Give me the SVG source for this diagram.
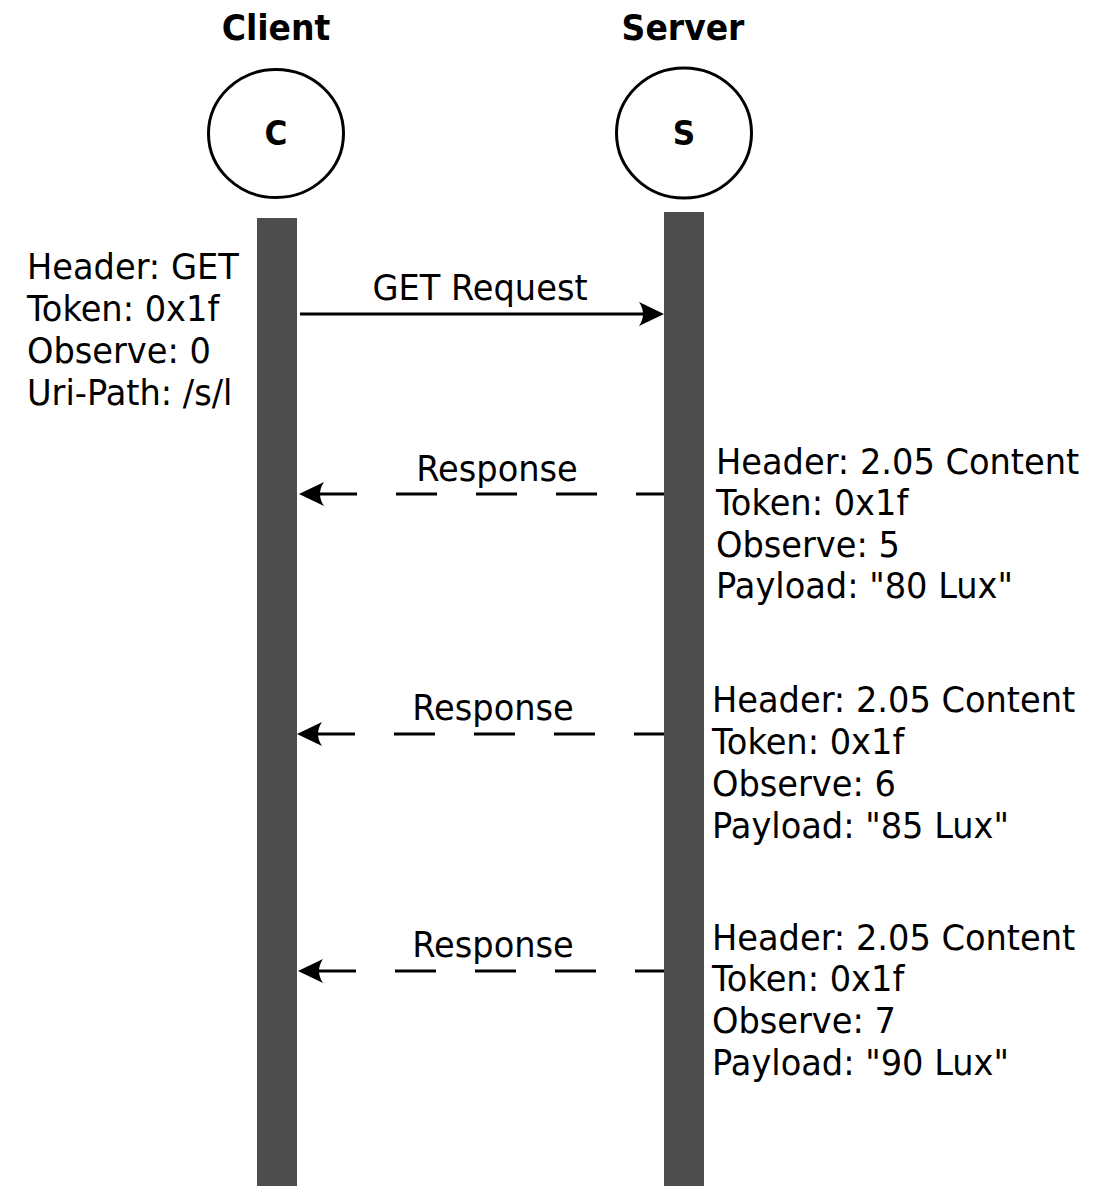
<svg xmlns="http://www.w3.org/2000/svg" width="1109" height="1186" viewBox="0 0 1109 1186">
<style>
text{font-family:"DejaVu Sans","Liberation Sans",sans-serif;fill:#000}
.lbl{font-size:35.6px}
.title{font-size:35px;font-weight:bold;text-anchor:middle}
.ini{font-size:33px;font-weight:bold;text-anchor:middle}
.mid{text-anchor:middle}
.head{fill:#fff;stroke:#000;stroke-width:3}
.bar{fill:#4d4d4d}
.msg{fill:none;stroke:#000;stroke-width:3}
.dash{stroke-dasharray:41 39}
</style>
<defs>
<marker id="ah" viewBox="-12 -15 32 30" markerWidth="32" markerHeight="30" refX="0" refY="0" markerUnits="userSpaceOnUse" orient="auto-start-reverse">
<path d="M17,0 L-8,-12 Q0,0 -8,12 Z" fill="#000"/>
</marker>
</defs>
<rect width="1109" height="1186" fill="#fff"/>
<g id="client">
<text class="title" transform="translate(276,0) scale(0.945,1)" x="0" y="40">Client</text>
<ellipse class="head" cx="276" cy="133.5" rx="67.5" ry="64"/>
<text class="ini" transform="translate(276,0) scale(0.945,1)" x="0" y="145">C</text>
<rect class="bar" x="257" y="218" width="40" height="968"/>
</g>
<g id="server">
<text class="title" transform="translate(683,0) scale(0.945,1)" x="0" y="40">Server</text>
<ellipse class="head" cx="684" cy="133" rx="67.5" ry="65"/>
<text class="ini" transform="translate(684,0) scale(0.945,1)" x="0" y="145">S</text>
<rect class="bar" x="664" y="212" width="40" height="974"/>
</g>
<g id="connectors">
<path class="msg" d="M300,314 H647" marker-end="url(#ah)"/>
<path class="msg dash" d="M316,494 H664" marker-start="url(#ah)"/>
<path class="msg dash" d="M314,734 H664" marker-start="url(#ah)"/>
<path class="msg dash" d="M315,971 H664" marker-start="url(#ah)"/>
</g>
<g id="labels">
<text class="lbl mid" transform="translate(480,0) scale(0.945,1)" x="0" y="300">GET Request</text>
<text class="lbl mid" transform="translate(497,0) scale(0.945,1)" x="0" y="481">Response</text>
<text class="lbl mid" transform="translate(493,0) scale(0.945,1)" x="0" y="720">Response</text>
<text class="lbl mid" transform="translate(493,0) scale(0.945,1)" x="0" y="957">Response</text>
</g>
<g id="note-get" transform="translate(27,0) scale(0.945,1)">
<text class="lbl" x="0" y="279">Header: GET</text>
<text class="lbl" x="0" y="321">Token: 0x1f</text>
<text class="lbl" x="0" y="363">Observe: 0</text>
<text class="lbl" x="0" y="405">Uri-Path: /s/l</text>
</g>
<g id="note-resp1" transform="translate(716,0) scale(0.945,1)">
<text class="lbl" x="0" y="474">Header: 2.05 Content</text>
<text class="lbl" x="0" y="515">Token: 0x1f</text>
<text class="lbl" x="0" y="557">Observe: 5</text>
<text class="lbl" x="0" y="598">Payload: "80 Lux"</text>
</g>
<g id="note-resp2" transform="translate(712,0) scale(0.945,1)">
<text class="lbl" x="0" y="712">Header: 2.05 Content</text>
<text class="lbl" x="0" y="754">Token: 0x1f</text>
<text class="lbl" x="0" y="796">Observe: 6</text>
<text class="lbl" x="0" y="838">Payload: "85 Lux"</text>
</g>
<g id="note-resp3" transform="translate(712,0) scale(0.945,1)">
<text class="lbl" x="0" y="950">Header: 2.05 Content</text>
<text class="lbl" x="0" y="991">Token: 0x1f</text>
<text class="lbl" x="0" y="1033">Observe: 7</text>
<text class="lbl" x="0" y="1075">Payload: "90 Lux"</text>
</g>
</svg>
